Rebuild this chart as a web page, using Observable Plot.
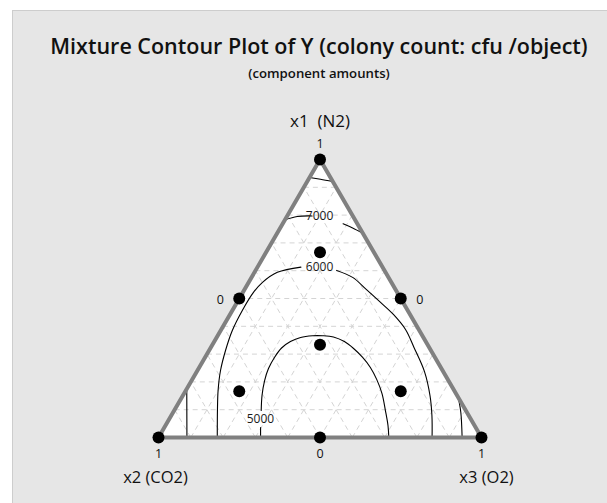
<!DOCTYPE html>
<html><head><meta charset="utf-8">
<script src="https://cdn.jsdelivr.net/npm/d3@7"></script>
<script src="https://cdn.jsdelivr.net/npm/@observablehq/plot@0.6"></script>
<style>
body{margin:0;background:#fff;font-family:"Open Sans",sans-serif;}
#wrap{position:relative;width:607px;height:503px;overflow:hidden;background:#fff;}
#panel{position:absolute;left:12px;top:10px;width:595px;height:493px;background:#e6e6e6;border-top:1px solid #cdcdcd;border-left:1px solid #cdcdcd;}
#title{position:absolute;left:0;width:638px;top:33px;text-align:center;font-size:21.5px;font-weight:600;color:#111;line-height:26px;white-space:nowrap;}
#subtitle{position:absolute;left:0;width:638px;top:65px;text-align:center;font-size:13.2px;font-weight:600;color:#111;line-height:17px;}
#chart{position:absolute;left:0;top:100px;}
</style></head>
<body>
<div id="wrap">
<div id="panel"></div>
<div id="title">Mixture Contour Plot of Y (colony count: cfu /object)</div>
<div id="subtitle">(component amounts)</div>
<div id="chart"></div>
</div>
<script>
// ---- data: compositions are [x1 (N2), x2 (CO2), x3 (O2)] ----
const vertexNames = ["x1  (N2)", "x2 (CO2)", "x3 (O2)"];
const vertices = [[1,0,0],[0,1,0],[0,0,1]];
const designPoints = [
  [1,0,0],[0,1,0],[0,0,1],
  [0.5,0.5,0],[0.5,0,0.5],[0,0.5,0.5],
  [1/3,1/3,1/3],
  [2/3,1/6,1/6],[1/6,2/3,1/6],[1/6,1/6,2/3]
];
const gridLevels = [0.1,0.2,0.3,0.4,0.5,0.6,0.7,0.8,0.9];
const tickTop = ["1"];          // x1 = 1 at apex
const tickLeft = ["0"];         // left edge midpoint
const tickRight = ["0"];        // right edge midpoint
const tickBottom = ["1","0","1"];

// contour pieces (visible segments, broken at labels)
const c8000 = [[0.935,0.065,0],[0.929,0.034,0.037],[0.921,0,0.079]];
const c7000a = [[0.783,0.217,0],[0.795,0.173,0.032],[0.797,0.126,0.077]];
const c7000b = [[0.769,0.044,0.187],[0.754,0.022,0.224],[0.735,0,0.265]];
const c7000c = [[0.175,0.825,0],[0,0.912,0.088]];
const c7000d = [[0.144,0,0.856],[0.090,0.019,0.891],[0,0.060,0.940]];
const c6000a = [[0,0.818,0.182],[0.097,0.769,0.134],[0.169,0.731,0.100],[0.241,0.6875,0.0715],
  [0.313,0.636,0.051],[0.385,0.579,0.036],[0.457,0.512,0.031],[0.522,0.445,0.033],
  [0.558,0.399,0.043],[0.594,0.335,0.071],[0.613,0.2525,0.1345]];
const c6000b = [[0.601,0.148,0.251],[0.576,0.111,0.313],[0.532,0.090,0.378],[0.486,0.0695,0.4445],
  [0.4425,0.0515,0.506],[0.3885,0.041,0.5705],[0.324,0.047,0.629],[0.237,0.058,0.705],
  [0.151,0.084,0.765],[0.079,0.114,0.807],[0,0.153,0.847]];
const c5000a = [[0,0.684,0.316],[0.036,0.666,0.298]];
const c5000b = [[0.097,0.6335,0.2695],[0.151,0.604,0.245],[0.205,0.569,0.226],[0.248,0.5355,0.2165],
  [0.288,0.497,0.215],[0.322,0.458,0.220],[0.345,0.419,0.236],[0.360,0.380,0.260],
  [0.366,0.340,0.294],[0.366,0.309,0.325],[0.3615,0.2775,0.361],[0.345,0.252,0.403],
  [0.320,0.236,0.444],[0.288,0.224,0.488],[0.252,0.218,0.530],[0.209,0.220,0.571],
  [0.158,0.229,0.613],[0.097,0.249,0.654],[0.043,0.268,0.689],[0,0.287,0.713]];
const contourPieces = [c8000,c7000a,c7000b,c7000c,c7000d,c6000a,c6000b,c5000a,c5000b];
const contourLabels = ["7000","6000","5000"];
const contourLabelAt = [[0.795,0.104,0.101],[0.613,0.195,0.192],[0.067,0.651,0.282]];

// ---- ternary -> cartesian ----
const SQ = Math.sqrt(3)/2;
const tx = p => p[2] + p[0]/2;
const ty = p => p[0]*SQ;

const tri = [...vertices, vertices[0]];
const contourRows = contourPieces.flatMap((pc,i) => pc.map(p => ({piece:i, p})));
const gridSegs = gridLevels.flatMap(k => [
  {a:[k,1-k,0], b:[k,0,1-k]},
  {a:[0,k,1-k], b:[1-k,k,0]},
  {a:[0,1-k,k], b:[1-k,0,k]}
]);
const labelRows = contourLabels.map((t,i)=>({t, p:contourLabelAt[i]}));
const leftMid = [0.5,0.5,0], rightMid = [0.5,0,0.5];
const bottomPts = [[0,1,0],[0,0.5,0.5],[0,0,1]];

const font = "Open Sans, sans-serif";
const chart = Plot.plot({
  width:607, height:403,
  marginLeft:158, marginRight:126, marginTop:59, marginBottom:66,
  x:{domain:[0,1], axis:null},
  y:{domain:[0,SQ], axis:null},
  style:{background:"transparent", fontFamily:font, overflow:"visible"},
  marks:[
    Plot.line(tri, {x:tx, y:ty, fill:"white", stroke:"none"}),
    Plot.link(gridSegs, {x1:d=>tx(d.a), y1:d=>ty(d.a), x2:d=>tx(d.b), y2:d=>ty(d.b),
      stroke:"#d4d4d4", strokeWidth:1, strokeDasharray:"5,4"}),
    Plot.line(contourRows, {x:d=>tx(d.p), y:d=>ty(d.p), z:"piece", stroke:"#000", strokeWidth:1.1, curve:"catmull-rom"}),
    Plot.text(labelRows, {x:d=>tx(d.p), y:d=>ty(d.p), text:"t", fill:"#1a1a1a", fontSize:12}),
    Plot.line(tri, {x:tx, y:ty, stroke:"#808080", strokeWidth:4, strokeLinejoin:"round"}),
    Plot.dot(designPoints, {x:tx, y:ty, r:6, fill:"#000"}),
    // tick labels
    Plot.text(tickTop, {x:()=>tx(vertices[0]), y:()=>ty(vertices[0]), text:d=>d, dy:-16, fontSize:12.5, fill:"#111"}),
    Plot.text(tickLeft, {x:()=>tx(leftMid), y:()=>ty(leftMid), text:d=>d, dx:-19, dy:1, fontSize:12.5, fill:"#111"}),
    Plot.text(tickRight, {x:()=>tx(rightMid), y:()=>ty(rightMid), text:d=>d, dx:19, dy:1, fontSize:12.5, fill:"#111"}),
    Plot.text(tickBottom, {x:(d,i)=>tx(bottomPts[i]), y:(d,i)=>ty(bottomPts[i]), text:d=>d, dy:16, fontSize:12.5, fill:"#111"}),
    // vertex names
    Plot.text([vertexNames[0]], {x:()=>tx(vertices[0]), y:()=>ty(vertices[0]), text:d=>d, dy:-38, fontSize:17, fill:"#111"}),
    Plot.text([vertexNames[1]], {x:()=>tx(vertices[1]), y:()=>ty(vertices[1]), text:d=>d, dy:40, dx:-3, fontSize:16.5, fill:"#111"}),
    Plot.text([vertexNames[2]], {x:()=>tx(vertices[2]), y:()=>ty(vertices[2]), text:d=>d, dy:40, dx:5, fontSize:16.5, fill:"#111"})
  ]
});
document.getElementById("chart").appendChild(chart);
</script>
</body></html>
